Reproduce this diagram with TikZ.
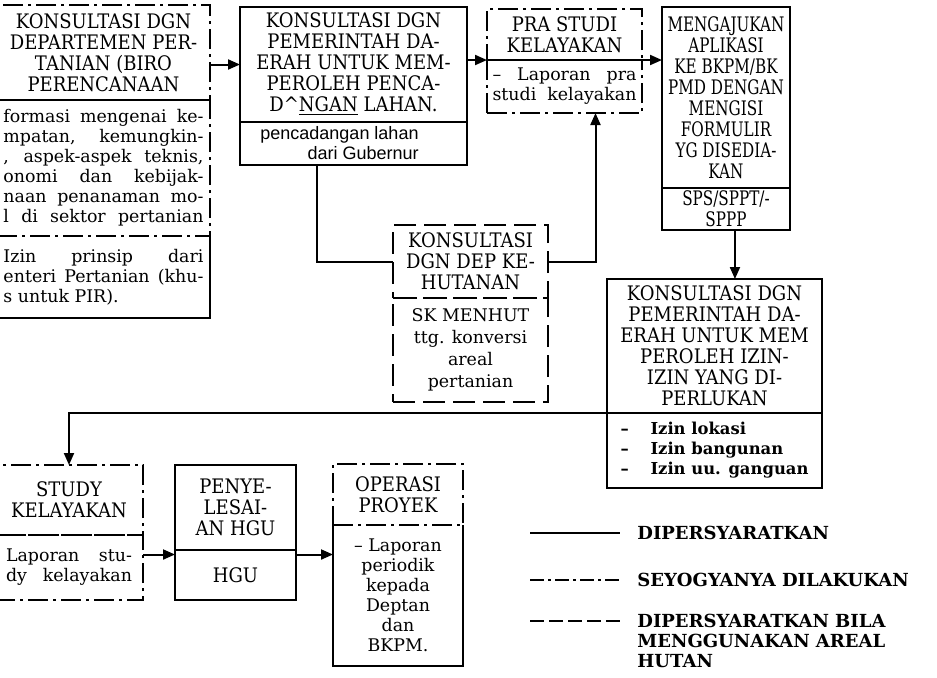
\documentclass[tikz,border=0pt]{standalone}
\usepackage{fontspec}
\usepackage{tikz}
\usetikzlibrary{arrows.meta, positioning, calc}
\setmainfont{DejaVu Serif}
\newfontfamily\hdfont[FakeStretch=0.9]{DejaVu Serif}
\newfontfamily\narrowfont[FakeStretch=0.76]{DejaVu Serif}
\newfontfamily\gubfont{Liberation Sans}
\newcommand{\jline}[2]{\makebox[#1][s]{#2}}

\begin{document}
\begin{tikzpicture}[
    x=0.5pt, y=-0.5pt,
    node distance=0pt,
    >={Triangle[length=6pt,width=5pt]},
    solidbox/.style={draw, line width=1.3pt, inner sep=0pt, outer sep=0pt, align=center},
    dotbox/.style={solidbox, dash pattern=on 10pt off 2.5pt on 1.5pt off 2.5pt},
    dashbox/.style={solidbox, dash pattern=on 11pt off 4pt},
    openbox/.style={inner sep=0pt, outer sep=0pt, align=center},
    hdtext/.style={font=\hdfont\fontsize{10}{10.5}\selectfont},
    narrowtext/.style={font=\narrowfont\fontsize{10}{10.5}\selectfont},
    bdtext/.style={font=\fontsize{8.7}{10}\selectfont},
    legtext/.style={inner sep=0pt, align=left, font=\bfseries\fontsize{9}{10}\selectfont},
    conn/.style={line width=1pt},
    link/.style={conn, ->},
    rim/.style={line width=1.3pt}
]
  \useasboundingbox (0,0) rectangle (937,677);
  \clip (0,0) rectangle (937,677);

  % Departemen Pertanian
  \node[dotbox, hdtext, anchor=north west, minimum width=106.5pt, minimum height=47.5pt] (deptH) at (-3,5)
    {KONSULTASI DGN\\DEPARTEMEN PER-\\TANIAN (BIRO\\PERENCANAAN};
  \node[dotbox, bdtext, below=of deptH, minimum width=106.5pt, minimum height=68pt] (deptB)
    {\jline{100pt}{formasi mengenai ke-}\\\jline{100pt}{mpatan, kemungkin-}\\
     \jline{100pt}{, aspek-aspek teknis,}\\\jline{100pt}{onomi dan kebijak-}\\
     \jline{100pt}{naan penanaman mo-}\\\jline{100pt}{l di sektor pertanian}};
  \node[openbox, bdtext, below=of deptB, minimum width=106.5pt, minimum height=41pt] (deptC)
    {\jline{100pt}{Izin prinsip dari}\\\jline{100pt}{enteri Pertanian (khu-}\\
     \makebox[100pt][l]{s untuk PIR).}};
  \draw[rim] (deptC.north west) -- (deptC.south west) -- (deptC.south east) -- (deptC.north east);

  % Pemerintah Daerah (lahan)
  \node[solidbox, hdtext, anchor=north west, minimum width=113.5pt, minimum height=57.5pt] (pemH) at (240,7)
    {KONSULTASI DGN\\PEMERINTAH DA-\\ERAH UNTUK MEM-\\PEROLEH PENCA-\\D\textasciicircum\underline{NGAN} LAHAN.};
  \node[solidbox, below=of pemH, minimum width=113.5pt, minimum height=21.5pt, align=right,
        font=\gubfont\fontsize{9}{10}\selectfont] (pemB)
    {pencadangan lahan\hspace*{14pt}\\dari Gubernur\hspace*{14pt}};

  % Pra studi
  \node[dotbox, hdtext, anchor=north west, minimum width=77.5pt, minimum height=25.5pt] (praH) at (487,9)
    {PRA STUDI\\KELAYAKAN};
  \node[dotbox, bdtext, below=of praH, minimum width=77.5pt, minimum height=26.5pt] (praB)
    {\jline{72pt}{– Laporan pra}\\\jline{72pt}{studi kelayakan}};

  % Aplikasi BKPM
  \node[solidbox, narrowtext, anchor=north west, minimum width=64pt, minimum height=90.5pt] (ajuH) at (662,7)
    {MENGAJUKAN\\APLIKASI\\KE BKPM/BK\\PMD DENGAN\\MENGISI\\FORMULIR\\YG DISEDIA-\\KAN};
  \node[solidbox, narrowtext, below=of ajuH, minimum width=64pt, minimum height=21pt] (ajuB)
    {SPS/SPPT/-\\SPPP};

  % Departemen Kehutanan
  \node[dashbox, hdtext, anchor=north west, minimum width=77.5pt, minimum height=36.5pt] (hutH) at (393,225)
    {KONSULTASI\\DGN DEP KE-\\HUTANAN};
  \node[dashbox, bdtext, below=of hutH, minimum width=77.5pt, minimum height=52pt,
        font=\fontsize{8.7}{11}\selectfont] (hutB)
    {SK MENHUT\\ttg. konversi\\areal\\pertanian};

  % Pemerintah Daerah (izin)
  \node[solidbox, hdtext, anchor=north west, minimum width=107.5pt, minimum height=67pt] (izinH) at (607,279)
    {KONSULTASI DGN\\PEMERINTAH DA-\\ERAH UNTUK MEM\\PEROLEH IZIN-\\IZIN YANG DI-\\PERLUKAN};
  \node[solidbox, below=of izinH, minimum width=107.5pt, minimum height=37.5pt, align=left,
        font=\bfseries\fontsize{8.2}{10}\selectfont] (izinB)
    {\makebox[15pt][l]{–}Izin lokasi\\\makebox[15pt][l]{–}Izin bangunan\\\makebox[15pt][l]{–}Izin uu. ganguan};

  % Study kelayakan
  \node[dotbox, hdtext, anchor=north west, minimum width=74pt, minimum height=35pt] (studyH) at (-5,465)
    {STUDY\\KELAYAKAN};
  \node[dotbox, bdtext, below=of studyH, minimum width=74pt, minimum height=32.5pt] (studyB)
    {\jline{63pt}{Laporan stu-}\\\jline{63pt}{dy kelayakan}};

  % HGU
  \node[solidbox, hdtext, anchor=north west, minimum width=60.5pt, minimum height=42.5pt] (hguH) at (175,465)
    {PENYE-\\LESAI-\\AN HGU};
  \node[solidbox, hdtext, below=of hguH, minimum width=60.5pt, minimum height=25pt] (hguB) {HGU};

  % Operasi proyek
  \node[openbox, bdtext, anchor=north west, minimum width=65pt, minimum height=70.5pt] (opsB) at (333,525)
    {– Laporan\\periodik\\kepada\\Deptan\\dan\\BKPM.};
  \draw[rim] (opsB.north west) -- (opsB.south west) -- (opsB.south east) -- (opsB.north east);
  \node[dotbox, hdtext, above=of opsB, minimum width=65pt, minimum height=30.5pt] (opsH)
    {OPERASI\\PROYEK};

  % Connectors
  \draw[link] (pemH.west -| deptH.east) -- (pemH.west);
  \draw[link] (praH.south west -| pemH.east) -- (praH.south west);
  \draw[link] (praH.south east) -- (praH.south east -| ajuH.west);
  \coordinate (pemOut) at ($(pemB.south west)!0.34!(pemB.south east)$);
  \draw[conn] (pemOut) |- (hutH.west);
  \coordinate (praIn) at ($(praB.south west)!0.7!(praB.south east)$);
  \draw[link] (hutH.east) -| (praIn);
  \coordinate (ajuOut) at ($(ajuB.south west)!0.57!(ajuB.south east)$);
  \draw[link] (ajuOut) -- (ajuOut |- izinH.north);
  \draw[link] (izinH.south west) -| (studyH.north);
  \coordinate (studyOut) at ($(studyB.north east)!0.3!(studyB.south east)$);
  \draw[link] (studyOut) -- (studyOut -| hguH.west);
  \draw[link] (studyOut -| hguB.east) -- (studyOut -| opsB.west);

  % Legend
  \node[legtext, anchor=west] (leg1) at (637,533) {DIPERSYARATKAN};
  \node[legtext, anchor=west] (leg2) at (637,580) {SEYOGYANYA DILAKUKAN};
  \node[legtext, anchor=north west] (leg3) at (637,614) {DIPERSYARATKAN BILA\\MENGGUNAKAN AREAL\\HUTAN};
  \coordinate (leg1s) at (530,533);
  \coordinate (leg2s) at (530,580);
  \coordinate (leg3s) at (530,621);
  \draw[rim, shorten >=8.5pt] (leg1s) -- (leg1s -| leg1.west);
  \draw[rim, shorten >=8.5pt, dash pattern=on 7pt off 2pt on 1.5pt off 2pt] (leg2s) -- (leg2s -| leg2.west);
  \draw[rim, shorten >=8.5pt, dash pattern=on 7pt off 2.5pt] (leg3s) -- (leg3s -| leg3.west);
\end{tikzpicture}
\end{document}
